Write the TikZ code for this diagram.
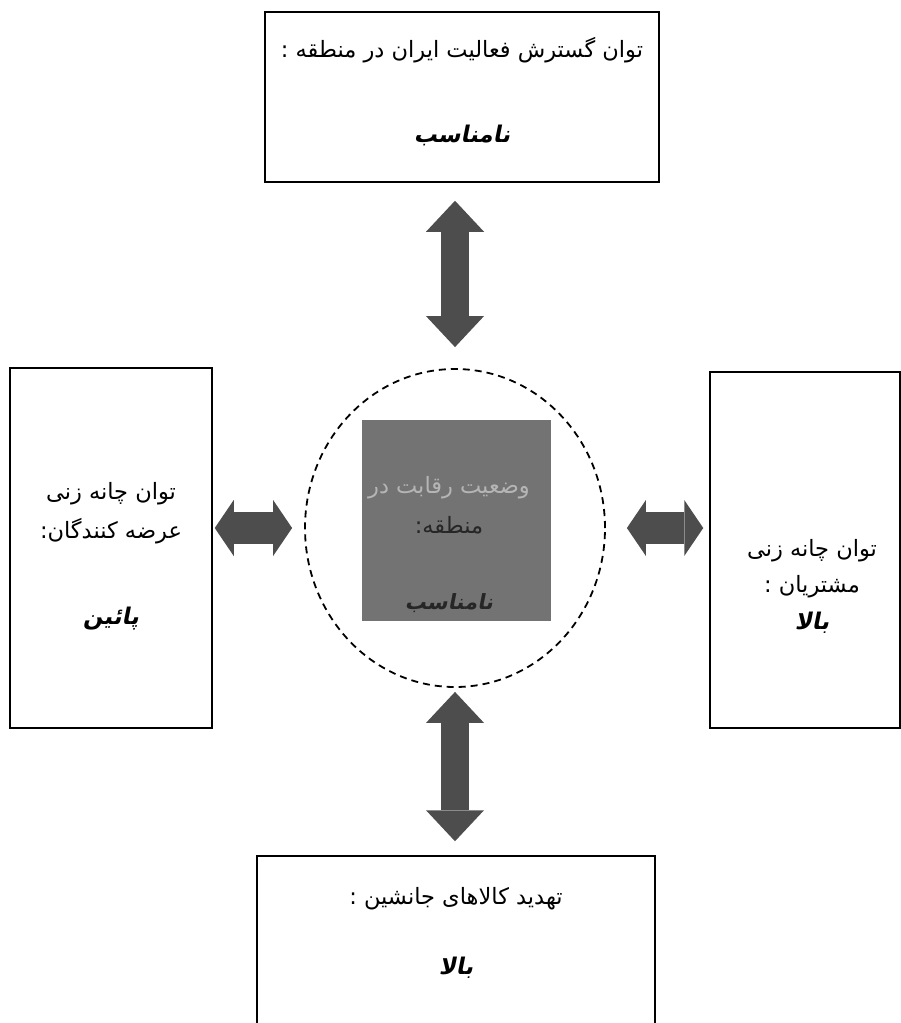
\documentclass[tikz,border=0pt]{standalone}
\usepackage{fontspec}
\usepackage{xcolor}
\usepackage{tikz}
\usetikzlibrary{arrows.meta}
\usetikzlibrary{shapes.geometric}

\TeXXeTstate=1
\newfontfamily\farsifont[Script=Arabic]{DejaVu Sans}
\newfontfamily\farsiemph[Script=Arabic,FakeSlant=0.2]{DejaVu Sans Bold}
\newcommand{\rl}[1]{\beginR #1\endR}

\definecolor{arrowgray}{HTML}{4D4D4D}
\definecolor{coregray}{HTML}{737373}
\definecolor{corelight}{HTML}{B5B5B5}
\definecolor{coredark}{HTML}{262626}

\begin{document}
\begin{tikzpicture}[
  x=1pt, y=-1pt,
  box/.style={draw, line width=1.5pt, fill=white, inner sep=0pt},
  txt/.style={align=center, inner sep=0pt, font=\fontsize{22.5}{40}\farsifont},
  ring/.style={ellipse, draw, line width=1.8pt, dash pattern=on 7pt off 5pt,
    minimum width=300pt, minimum height=318pt, inner sep=0pt},
  vhead/.tip={Triangle[length=31pt,width=58pt,line width=0pt]},
  hhead/.tip={Triangle[length=19pt,width=56pt,line width=0pt]},
  vlink/.style={draw=arrowgray, line width=28pt, vhead-vhead},
  hlink/.style={draw=arrowgray, line width=32pt, hhead-hhead}
]
\path[use as bounding box, fill=white] (0,0) rectangle (901,1023);

% boxes round the ring
\node[box, minimum width=394pt, minimum height=170pt] (top) at (462,97) {};
\node[box, minimum width=202pt, minimum height=360pt] (left) at (111,548) {};
\node[box, minimum width=190pt, minimum height=356pt] (right) at (805,550) {};
\node[box, minimum width=398pt, minimum height=204pt] (sub) at (456,958) {};

% centre
\node[ring] (ring) at (455,528) {};
\node[fill=coregray, minimum width=189pt, minimum height=201pt, inner sep=0pt] (core) at (456.5,520.5) {};

% texts
\node[txt] (topText) at (462,92)
  {\rl{توان گسترش فعالیت ایران در منطقه :}\\[45pt]{\fontsize{23}{26}\farsiemph\rl{نامناسب}}};
\node[txt] (leftText) at (111,556)
  {\rl{توان چانه زنی}\\[-1pt]\rl{عرضه کنندگان:}\\[46pt]{\fontsize{23}{26}\farsiemph\rl{پائین}}};
\node[txt] (rightText) at (812,586)
  {\rl{توان چانه زنی}\\[-4pt]\rl{مشتریان :}\\[-3pt]{\fontsize{23}{26}\farsiemph\rl{بالا}}};
\node[txt] (subText) at (456,933)
  {\rl{تهدید کالاهای جانشین :}\\[30pt]{\fontsize{23}{26}\farsiemph\rl{بالا}}};
\node[txt] (coreText) at (449,545)
  {\textcolor{corelight}{\rl{وضعیت رقابت در}}\\[0pt]\textcolor{coredark}{\rl{منطقه:}}\\[36pt]%
   {\fontsize{21}{26}\farsiemph\color{coredark}\rl{نامناسب}}};

% double arrows
\draw[vlink, shorten <=18pt, shorten >=21pt] (ring.north |- top.south) -- (ring.north);
\draw[vlink, shorten <=4pt, shorten >=14pt] (ring.south) -- (ring.south |- sub.north);
\draw[hlink, shorten <=2pt, shorten >=12pt] (ring.west -| left.east) -- (ring.west);
\draw[hlink, shorten <=21pt, shorten >=6pt] (ring.east) -- (ring.east -| right.west);
\end{tikzpicture}
\end{document}
